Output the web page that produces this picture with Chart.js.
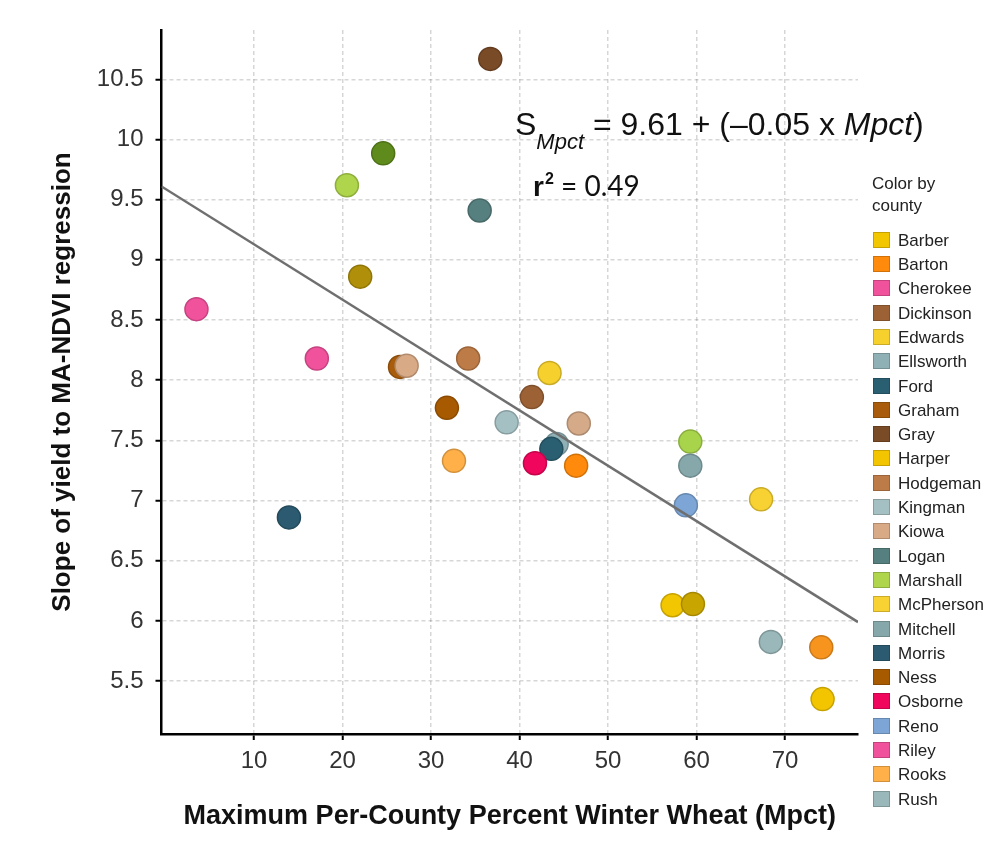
<!DOCTYPE html>
<html>
<head>
<meta charset="utf-8">
<script src="https://cdn.jsdelivr.net/npm/chart.js@4.4.1/dist/chart.umd.min.js"></script>
<style>
  html, body { margin:0; padding:0; background:#fff; }
  #wrap { position:relative; width:1003px; height:841px; overflow:hidden; }
  #c { position:absolute; left:0; top:0; }
  #eq { position:absolute; left:515px; top:108px; font-family:'Liberation Sans', Arial, sans-serif; font-size:32px; line-height:32px; color:#111; white-space:nowrap; }
  #eq .sub { font-size:22px; font-style:italic; vertical-align:-14px; line-height:22px; }
  #r2 { position:absolute; left:533px; top:170px; font-family:'Lato', 'Liberation Sans', sans-serif; font-size:28px; line-height:30px; color:#111; white-space:nowrap; }
  #r2 b { font-family:'Liberation Sans', Arial, sans-serif; font-size:28px; }
  #r2 sup { font-family:'Liberation Sans', Arial, sans-serif; font-size:16px; font-weight:bold; vertical-align:12px; line-height:10px; margin-left:1px; }
  #legend { position:absolute; left:872px; top:173px; font-family:'Liberation Sans', Arial, sans-serif; color:#222; }
  #legend .ttl { font-size:17px; line-height:22px; margin-bottom:14px; }
  #legend .row { position:absolute; left:0; height:17px; line-height:17px; font-size:17px; white-space:nowrap; }
  #legend .box { position:absolute; left:1px; top:0; width:17px; height:16px; border:1px solid rgba(0,0,0,0.18); box-sizing:border-box; }
  #legend .lab { position:absolute; left:26px; top:0; }
</style>
</head>
<body>
<div id="wrap">
  <canvas id="c" width="1003" height="841"></canvas>
  <div id="eq">S<span class="sub">Mpct</span> = 9.61 + (–0.05 x <i>Mpct</i>)</div>
  <div id="r2"><b>r</b><sup>2</sup> = 0.49</div>
  <div id="legend"><div class="ttl">Color by<br>county</div></div>
</div>
<script>
// ---- data ----
const countyNames = ["Barber","Barton","Cherokee","Dickinson","Edwards","Ellsworth","Ford","Graham","Gray","Harper","Hodgeman","Kingman","Kiowa","Logan","Marshall","McPherson","Mitchell","Morris","Ness","Osborne","Reno","Riley","Rooks","Rush"];

// one entry per plotted point (drawing order = list order)
const pointCounty = ["Gray","unlisted-1","Marshall","Logan","unlisted-2","Cherokee","Riley","Graham","Kiowa","Hodgeman","Ness","Kingman","Rooks","Morris","Edwards","Dickinson","unlisted-3","Ellsworth","Ford","Osborne","Barton","unlisted-4","Mitchell","McPherson","Reno","Barber","unlisted-5","Rush","unlisted-6","Harper"];
const pointMpct   = [36.7, 24.6, 20.5, 35.5, 22.0, 3.5, 17.1, 26.5, 27.25, 34.2, 31.8, 38.55, 32.6, 13.95, 43.4, 41.4, 46.7, 44.2, 43.6, 41.75, 46.4, 59.3, 59.3, 67.3, 58.8, 57.3, 59.6, 68.4, 74.1, 74.25];
const pointSlope  = [10.67, 9.885, 9.62, 9.41, 8.86, 8.59, 8.18, 8.11, 8.12, 8.18, 7.77, 7.65, 7.33, 6.86, 8.06, 7.86, 7.64, 7.47, 7.43, 7.31, 7.29, 7.49, 7.29, 7.01, 6.96, 6.13, 6.14, 5.825, 5.78, 5.35];

// regression line as drawn in the reference
const fitMpct  = [-0.45, 78.25];
const fitSlope = [9.61, 5.99];

const xTicks = [10, 20, 30, 40, 50, 60, 70];
const yTicks = [5.5, 6, 6.5, 7, 7.5, 8, 8.5, 9, 9.5, 10, 10.5];

// ---- styles ----
const palette = {
  "Barber":"#f2c600","Barton":"#ff8a0c","Cherokee":"#f0529c","Dickinson":"#9c6236","Edwards":"#f6d12e",
  "Ellsworth":"#8fb0b5","Ford":"#2a5f72","Graham":"#a95d0c","Gray":"#7a4b27","Harper":"#f2c500",
  "Hodgeman":"#bd7b47","Kingman":"#a5c0c3","Kiowa":"#d8aa86","Logan":"#56807f","Marshall":"#aed54b",
  "McPherson":"#f7d232","Mitchell":"#86a8ab","Morris":"#2c5a70","Ness":"#a85a00","Osborne":"#f0065c",
  "Reno":"#7da6d6","Riley":"#f0529c","Rooks":"#ffb048","Rush":"#9ab7b9",
  "unlisted-1":"#5f8b1c","unlisted-2":"#b0900a","unlisted-3":"#d4aa88","unlisted-4":"#a8d44c",
  "unlisted-5":"#c9a500","unlisted-6":"#f7941e"
};
function darker(hex, f) {
  const n = parseInt(hex.slice(1), 16);
  const r = Math.round(((n >> 16) & 255) * f), g = Math.round(((n >> 8) & 255) * f), b = Math.round((n & 255) * f);
  return `rgb(${r},${g},${b})`;
}

// ---- legend (HTML) ----
const leg = document.getElementById('legend');
countyNames.forEach((name, i) => {
  const row = document.createElement('div');
  row.className = 'row';
  row.style.top = (58.7 + 24.3 * i) + 'px';
  const box = document.createElement('span');
  box.className = 'box';
  box.style.background = palette[name];
  const lab = document.createElement('span');
  lab.className = 'lab';
  lab.textContent = name;
  row.appendChild(box); row.appendChild(lab);
  leg.appendChild(row);
});

// ---- chart ----
const pts = pointMpct.map((x, i) => ({ x: x, y: pointSlope[i] }));
const fit = fitMpct.map((x, i) => ({ x: x, y: fitSlope[i] }));
const fills = pointCounty.map(c => palette[c]);
const borders = pointCounty.map(c => darker(palette[c], 0.82));

const tickFont = { family: "'Liberation Sans', Arial, sans-serif", size: 24 };

new Chart(document.getElementById('c'), {
  type: 'scatter',
  data: {
    datasets: [
      {
        type: 'line', label: 'fit', data: fit, order: 0,
        borderColor: '#6f6f6f', borderWidth: 2.5, pointRadius: 0, fill: false, tension: 0
      },
      {
        label: 'counties', data: pts, order: 1,
        pointRadius: 11.5, pointHoverRadius: 11.5, pointBorderWidth: 1.5,
        backgroundColor: fills, borderColor: borders,
        pointBackgroundColor: fills, pointBorderColor: borders
      }
    ]
  },
  options: {
    responsive: false,
    devicePixelRatio: 1,
    animation: false,
    events: [],
    layout: { padding: { top: 30, right: 145, left: 0, bottom: 0 } },
    plugins: { legend: { display: false }, tooltip: { enabled: false } },
    scales: {
      x: {
        type: 'linear', min: -0.45, max: 78.25,
        afterBuildTicks: s => { s.ticks = xTicks.map(v => ({ value: v })); },
        afterFit: s => { s.height = 107; },
        grid: { color: 'rgba(0,0,0,0.16)', lineWidth: 1.5, tickLength: 6, tickColor: '#000', tickWidth: 2, tickBorderDash: [] },
        border: { display: true, color: '#000', width: 2.5, dash: [4, 3] },
        ticks: { font: tickFont, color: '#333', padding: 7, maxRotation: 0, autoSkip: false, callback: v => String(v) },
        title: { display: true, text: 'Maximum Per-County Percent Winter Wheat (Mpct)', font: { family: "'Liberation Sans', Arial, sans-serif", size: 27, weight: 'bold' }, color: '#111', padding: { top: 0, bottom: 8 } }
      },
      y: {
        type: 'linear', min: 5.06, max: 10.91,
        afterBuildTicks: s => { s.ticks = yTicks.map(v => ({ value: v })); },
        afterFit: s => { s.width = 161.5; },
        grid: { color: 'rgba(0,0,0,0.16)', lineWidth: 1.5, tickLength: 6, tickColor: '#000', tickWidth: 2, tickBorderDash: [] },
        border: { display: true, color: '#000', width: 2.5, dash: [4, 3] },
        ticks: { font: tickFont, color: '#333', padding: 12, autoSkip: false, callback: v => String(v) },
        title: { display: true, text: 'Slope of yield to MA-NDVI regression', font: { family: "'Liberation Sans', Arial, sans-serif", size: 26, weight: 'bold' }, color: '#111', padding: { top: 47, bottom: 0 } }
      }
    }
  }
});
</script>
</body>
</html>
